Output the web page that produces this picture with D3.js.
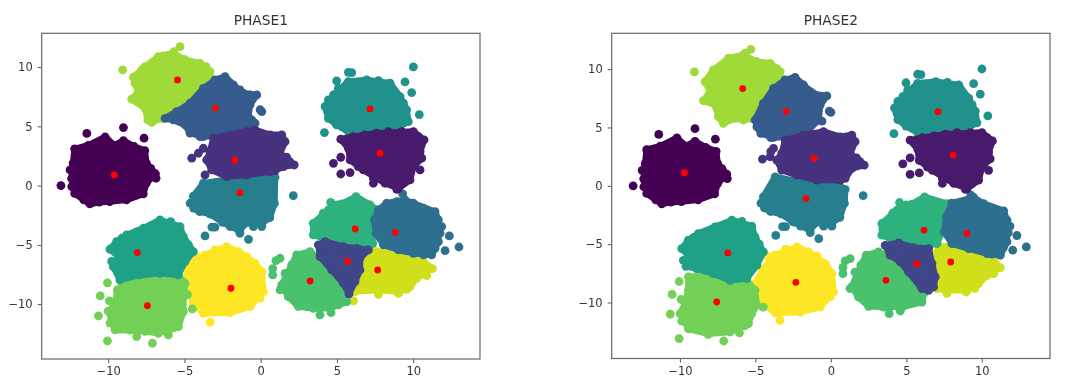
<!DOCTYPE html>
<html>
<head>
<meta charset="utf-8">
<script src="https://cdnjs.cloudflare.com/ajax/libs/d3/7.8.5/d3.min.js"></script>
<style>
  html, body { margin: 0; padding: 0; background: #fff; }
  svg { display: block; filter: blur(0.55px); font-family: "DejaVu Sans", sans-serif; }
</style>
</head>
<body>
<svg id="chart" width="1080" height="392"></svg>
<script>
const xTicks = [-10, -5, 0, 5, 10];
const yTicks = [-10, -5, 0, 5, 10];

// clusters that look the same in both phases
const darkOutline = [[-12.2,3.1],[-11.3,3.4],[-10.2,4.1],[-9.6,3.4],[-9.0,3.8],[-8.3,3.3],[-7.6,2.95],[-7.5,1.9],[-6.9,1.0],[-7.5,0.2],[-7.7,-0.7],[-8.8,-1.2],[-9.9,-1.35],[-10.6,-1.4],[-11.2,-1.55],[-11.6,-1.2],[-12.2,-0.65],[-12.4,0.6],[-12.3,1.9]];
const darkStrays = [[-11.4,4.4],[-9.0,4.9],[-7.65,4.0],[-13.1,0.0]];
const purpleOutline = [[5.25,3.91],[6.08,4.13],[7.6,4.42],[10.01,4.56],[10.71,3.85],[10.45,2.87],[10.56,2.31],[10.01,1.6],[9.79,0.48],[9.03,-0.23],[8.15,0.2],[6.73,1.32],[5.86,2.17],[5.75,3.15]];
const purpleStrays = [[4.77,1.88],[5.25,2.39],[5.25,0.98],[5.86,1.1],[7.39,0.2],[10.45,1.32],[8.92,-0.31]];
const tealOutline = [[4.22,6.67],[4.77,7.65],[5.75,8.78],[6.95,8.92],[8.48,8.64],[9.14,7.51],[9.57,6.39],[9.68,5.4],[8.92,4.84],[7.17,4.7],[5.75,4.56],[4.98,5.12],[4.44,5.68]];
const tealStrays = [[10.01,10.01],[9.46,8.75],[9.9,7.85],[10.4,5.99],[4.18,4.47],[5.75,9.56],[5.97,9.53],[4.98,8.83]];
const bottomTealStrays = [[-3.65,-4.25],[-3.2,-3.5],[-3.0,-3.5],[-0.8,-4.53],[0.07,-3.46],[2.14,-0.84]];
const greenStrays = [[-10.05,-8.2],[-10.52,-9.31],[-9.92,-9.73],[-10.64,-11],[-10.05,-13.1],[-7.1,-13.3],[-8.13,-12.74],[-6.05,-12.6],[-4.48,-10.4]];

// points on the outer rim of each cluster, same label in both phases
const edgePoints = [
  [[-11.63,3.15],[-10.86,3.35],[-7.69,2.45],[-7.21,1.46],[-6.86,0.62],[-12.5,1.32],[-12.39,-0.08]],
  [[6.84,4.28],[8.37,4.56],[9.25,4.56],[10.34,4.13],[9.36,0.2],[7.39,0.62],[6.4,1.6]],
  [[1.0,3.6],[1.7,2.4]],
  [],
  [[-1.36,8.07],[-0.7,7.65],[-0.59,5.54],[-2.01,8.64],[-3.98,4.13]],
  [[8.92,-1.35],[10.67,-1.91],[11.87,-3.46],[11.76,-4.02],[11.43,-5.29],[10.67,-5.85]],
  [[-3.98,-2.05],[-2.0,-3.46],[-1.36,-4.02],[-0.48,-3.46],[-4.63,-1.49]],
  [[6.34,8.64],[7.72,8.86],[5.09,8.21],[4.44,7.23],[9.36,6.95],[9.25,5.54]],
  [[-9.1,-4.44],[-8.1,-3.88],[-7.11,-3.46],[-5.9,-3.04],[-4.74,-5.0],[-9.77,-6.4]],
  [[3.89,-3.18],[5.0,-1.63],[5.86,-1.49],[6.73,-1.49],[4.1,-2.33]],
  [[1.6,-7.4],[3.02,-10.2],[4.1,-10.2],[5.09,-10.07],[1.27,-8.8]],
  [[-9.88,-11.6],[-9.1,-11.76],[-6.27,-12.3],[-5.73,-12]],
  [[-7.8,9.76],[-6.93,10.46],[-6.38,10.94],[-5.07,10.66],[-4.42,10.18],[-3.58,10.04],[-7.91,8.5]],
  [[10.23,-6.41],[8.48,-8.8]],
  [[-4.2,-6],[-3,-5.43],[-0.92,-6],[-0.26,-8.5],[-0.04,-9.5],[-1.35,-10.35],[-2.9,-10.6]]
];

// index in each list = cluster label, 0..14
const phase1Outlines = [
  darkOutline,
  purpleOutline,
  [[-3.32,2.87],[-3.1,4.0],[-2.01,4.28],[-0.92,4.56],[-0.37,4.7],[0.61,4.28],[1.38,4.28],[1.6,3.71],[1.27,2.73],[1.9,2.03],[2.2,1.74],[1.49,1.6],[0.94,1.27],[0.61,1.18],[-0.92,0.9],[-2.23,0.76],[-3.21,1.32],[-3.54,2.17]],
  [[3.78,-5.0],[4.22,-4.73],[5.42,-5.15],[6.3,-5.29],[7.06,-5.43],[6.51,-6.13],[6.51,-7.12],[6.19,-8.1],[5.79,-9.14],[5.42,-8.24],[4.66,-7.12],[3.89,-6.0]],
  [[-6.27,5.68],[-5.51,6.24],[-4.63,6.95],[-3.76,8.21],[-2.99,8.92],[-2.34,9.2],[-1.79,8.5],[-1.14,7.79],[-0.26,7.65],[-0.7,6.81],[-0.81,5.82],[-0.37,5.26],[-0.92,4.84],[-1.57,4.56],[-2.67,4.28],[-3.76,4.13],[-4.63,4.42],[-4.96,5.12],[-5.73,5.54]],
  [[7.72,-2.05],[8.26,-1.49],[9.46,-1.21],[10.01,-1.49],[11.43,-2.2],[11.65,-2.9],[11.65,-4.73],[11.21,-5.85],[10.01,-5.71],[9.03,-5.43],[8.05,-5.0],[7.56,-4.02],[7.45,-2.9]],
  [[-4.42,-0.9],[-3.76,0.2],[-2.23,0.5],[-0.92,0.65],[0.2,0.8],[0.94,0.7],[0.9,-1.5],[0.6,-2.7],[0.05,-3.2],[-0.9,-3.1],[-1.4,-3.8],[-2.5,-3.1],[-3.3,-2.4],[-4.0,-2.2],[-4.4,-1.9]],
  tealOutline,
  [[-9.88,-5.37],[-9.45,-4.73],[-8.79,-4.16],[-7.69,-3.6],[-6.6,-2.9],[-5.29,-3.46],[-5.07,-4.3],[-4.42,-5.57],[-4.96,-6.41],[-5.4,-7.54],[-6.6,-7.4],[-7.92,-7.54],[-9.23,-7.96],[-9.66,-6.84],[-9.33,-5.99]],
  [[3.45,-3.18],[4.44,-2.05],[5.31,-1.55],[6.25,-0.93],[7.17,-1.63],[7.64,-2.05],[7.7,-2.9],[7.39,-3.46],[7.35,-4.87],[6.84,-5.29],[5.86,-5.15],[4.44,-4.58],[3.45,-4.16]],
  [[1.38,-8.38],[2.03,-6.7],[2.36,-5.85],[3.24,-5.57],[3.89,-6.27],[4.77,-7.4],[5.54,-8.8],[5.64,-9.79],[4.55,-10.35],[3.45,-10.35],[2.47,-10.2],[1.81,-9.37]],
  [[-9.4,-8.8],[-8.9,-8.1],[-7.69,-7.74],[-6.38,-7.82],[-5.4,-7.54],[-4.96,-8.24],[-5.07,-9.37],[-5.07,-10.63],[-5.4,-11.9],[-6.71,-12.46],[-7.58,-12.3],[-8.57,-12.2],[-9.55,-12.18],[-9.77,-11.2],[-10,-10.6],[-9.55,-10.07]],
  [[-8.35,9.14],[-7.58,10.04],[-6.71,10.89],[-5.73,11.17],[-4.96,10.6],[-3.98,10.32],[-3.32,9.62],[-3.32,9.06],[-4.31,7.93],[-5.07,6.95],[-5.95,6.24],[-6.49,5.68],[-7.15,5.34],[-7.4,5.54],[-7.58,6.53],[-8.46,7.29],[-8.02,7.93],[-8.24,8.64]],
  [[7.39,-5.43],[8.26,-5.71],[9.35,-6.13],[10.67,-6.41],[11.26,-7.0],[10.23,-7.82],[9.79,-8.52],[9.03,-8.95],[7.72,-8.8],[6.19,-8.94],[6.62,-7.54],[6.73,-6.13]],
  [[-4.74,-6.69],[-3.65,-5.85],[-2.23,-5.15],[-1.46,-5.57],[-0.37,-6.55],[0.07,-7.26],[0.17,-8.95],[-0.7,-10.2],[-2.01,-10.72],[-3.76,-10.77],[-4.42,-9.93],[-4.74,-8.8],[-4.85,-7.82]]
];
const phase1Strays = [
  darkStrays,
  purpleStrays,
  [[-4.52,2.31],[-4.09,2.73],[-3.76,3.15],[-3.65,0.9]],
  [],
  [[0.07,6.24],[-0.04,6.4]],
  [[12.37,-4.25],[12.09,-5.49],[13.0,-5.18],[9.31,-0.7]],
  bottomTealStrays,
  tealStrays,
  [],
  [[4.59,-1.41]],
  [[3.89,-10.91],[4.61,-10.72],[1.27,-6.13],[1.0,-6.33],[0.79,-7.54],[0.79,-7]],
  greenStrays.concat([[-4.8,-9.2]]),
  [[-9.05,9.76],[-5.29,11.73],[-5.68,11.3]],
  [[10.89,-7.6],[7.72,-9.17],[9.03,-9.1],[9.57,-8.75],[6.08,-9.73]],
  [[-3.32,-11.53]]
];
const phase1Centers = [[-9.6,0.9],[7.83,2.73],[-1.7,2.14],[5.7,-6.39],[-2.97,6.53],[8.83,-3.94],[-1.36,-0.6],[7.17,6.47],[-8.09,-5.65],[6.2,-3.66],[3.24,-8.05],[-7.43,-10.13],[-5.46,8.92],[7.67,-7.12],[-1.95,-8.66]];

const phase2Outlines = [
  darkOutline,
  purpleOutline,
  [[-3.25,2.78],[-3.03,3.92],[-1.81,4.35],[-0.49,4.64],[0.62,4.2],[1.39,4.35],[1.61,3.78],[1.28,2.78],[1.94,2.06],[2.21,1.77],[1.39,1.49],[0.95,0.63],[0.62,0.49],[-0.93,0.49],[-2.25,0.92],[-3.25,1.34],[-3.58,2.2]],
  [[3.6,-5.1],[4.49,-4.9],[5.48,-5.3],[6.48,-5.38],[6.7,-6.67],[6.92,-7.81],[6.81,-8.67],[6.48,-8.96],[6.03,-8.81],[5.15,-7.38],[4.6,-6.52],[3.93,-5.95]],
  [[-5.02,5.64],[-4.47,7.07],[-3.8,8.35],[-3.03,9.07],[-2.37,9.3],[-1.81,8.64],[-1.15,7.87],[-0.27,7.7],[-0.71,6.92],[-0.82,5.64],[-1.59,4.64],[-2.7,4.2],[-3.8,4.15],[-4.64,4.49],[-4.9,5.06]],
  [[8.02,-1.48],[9.46,-1.0],[10.12,-1.52],[11.45,-2.15],[11.67,-2.95],[11.67,-4.81],[11.23,-5.95],[10.35,-5.81],[9.13,-5.38],[8.02,-4.95],[7.52,-3.95],[7.65,-2.66]],
  [[-4.47,-0.94],[-3.69,0.77],[-2.03,0.34],[-0.27,0.2],[0.62,-0.09],[0.95,-0.3],[0.9,-1.5],[0.6,-2.7],[0.05,-3.2],[-0.9,-3.1],[-1.4,-3.8],[-2.5,-3.1],[-3.3,-2.4],[-4.0,-2.2],[-4.4,-1.9]],
  tealOutline,
  [[-9.88,-5.38],[-9.44,-4.66],[-8.78,-4.09],[-7.67,-3.52],[-6.56,-2.95],[-5.24,-3.46],[-5.02,-4.38],[-4.47,-5.67],[-4.91,-6.81],[-5.57,-7.95],[-6.68,-8.1],[-7.78,-7.53],[-8.89,-7.1],[-9.6,-6.9],[-9.37,-6.1]],
  [[3.38,-3.23],[4.38,-2.09],[5.37,-1.57],[6.21,-0.95],[7.69,-1.52],[7.91,-2.09],[7.47,-3.66],[7.03,-4.95],[6.48,-5.09],[5.37,-4.81],[4.15,-4.66],[3.38,-4.23]],
  [[1.39,-8.67],[1.99,-6.81],[2.34,-5.95],[3.16,-5.67],[3.93,-6.1],[4.71,-7.1],[5.37,-8.24],[6.15,-9.24],[6.04,-9.96],[4.71,-10.39],[3.49,-10.39],[2.5,-10.33],[1.83,-9.53]],
  [[-9.44,-7.81],[-8.33,-7.67],[-7.78,-7.6],[-6.68,-8.24],[-5.57,-8.1],[-5.02,-8.95],[-4.91,-10.25],[-5.24,-10.96],[-5.46,-11.82],[-6.68,-12.53],[-8.11,-12.68],[-9.44,-12.25],[-9.99,-10.96],[-9.66,-10.1],[-9.44,-8.95]],
  [[-3.36,9.21],[-4.13,7.93],[-4.69,7.07],[-5.24,5.78],[-5.79,5.64],[-6.34,5.78],[-7.12,5.35],[-7.45,5.92],[-7.67,6.92],[-8.44,7.3],[-8.0,8.07],[-8.33,8.93],[-7.78,9.93],[-6.79,10.93],[-5.79,11.22],[-4.91,10.64],[-4.02,10.5],[-3.36,9.79]],
  [[6.81,-5.95],[7.25,-5.24],[8.02,-5.09],[9.24,-5.67],[10.79,-6.38],[11.23,-7.01],[10.35,-7.67],[9.79,-8.38],[9.02,-8.96],[7.69,-8.96],[7.03,-8.81],[7.03,-7.81],[6.81,-6.81]],
  [[-5.02,-8.39],[-4.47,-7.1],[-3.69,-5.95],[-2.25,-5.24],[-1.48,-5.67],[-0.38,-6.67],[0.07,-7.53],[0.18,-9.1],[-0.71,-10.39],[-2.03,-10.82],[-3.69,-10.9],[-4.69,-9.82],[-4.91,-8.96]]
];
const phase2Strays = [
  darkStrays,
  purpleStrays,
  [[-4.53,2.29],[-4.02,2.49],[-3.8,3.2],[-3.98,2.92]],
  [],
  [[0.0,6.3],[-0.1,6.4]],
  [[12.33,-4.26],[12.05,-5.52],[12.95,-5.24],[9.28,-0.8]],
  bottomTealStrays,
  tealStrays,
  [],
  [[4.55,-1.43]],
  [[3.87,-10.96],[4.6,-10.73],[1.28,-6.24],[0.95,-6.44],[0.8,-7.53],[0.8,-7]],
  greenStrays,
  [[-9.04,9.76],[-5.3,11.7],[-5.68,11.36]],
  [[10.79,-7.53],[7.69,-9.24],[8.97,-9.1],[9.53,-8.81]],
  [[-3.36,-11.53]]
];
const phase2Centers = [[-9.7,1.12],[8.11,2.63],[-1.11,2.35],[5.7,-6.67],[-2.96,6.38],[9.02,-4.09],[-1.64,-1.09],[7.1,6.35],[-6.83,-5.75],[6.17,-3.81],[3.65,-8.1],[-7.56,-9.96],[-5.84,8.33],[7.94,-6.53],[-2.32,-8.27]];

const svg = d3.select("#chart");
const color = d3.scaleSequential(d3.interpolateViridis).domain([0, 14]);

function drawPanel(title, box, xDomain, yDomain, outlines, strays, centers) {
  const x = d3.scaleLinear().domain(xDomain).range([box.left, box.right]);
  const y = d3.scaleLinear().domain(yDomain).range([box.bottom, box.top]);
  const g = svg.append("g");
  const line = d3.line().x(d => x(d[0])).y(d => y(d[1])).curve(d3.curveLinearClosed);

  // lowest labels end up on top, like the overlaps in the picture
  d3.range(14, -1, -1).forEach(i => {
    const c = g.append("g").attr("fill", color(i));
    c.append("path")
      .attr("d", line(outlines[i]))
      .attr("stroke", color(i))
      .attr("stroke-width", 6.5)
      .attr("stroke-linejoin", "round");
    c.selectAll("circle")
      .data(outlines[i].concat(edgePoints[i], strays[i]))
      .join("circle")
      .attr("cx", d => x(d[0]))
      .attr("cy", d => y(d[1]))
      .attr("r", 4.4);
  });

  g.append("g")
    .selectAll("circle")
    .data(centers)
    .join("circle")
    .attr("cx", d => x(d[0]))
    .attr("cy", d => y(d[1]))
    .attr("r", 3.4)
    .attr("fill", "#ff0000");

  const xAxis = g.append("g")
    .attr("transform", `translate(0,${box.bottom})`)
    .call(d3.axisBottom(x).tickValues(xTicks).tickSize(4).tickPadding(4));
  const yAxis = g.append("g")
    .attr("transform", `translate(${box.left},0)`)
    .call(d3.axisLeft(y).tickValues(yTicks).tickSize(4).tickPadding(5));
  [xAxis, yAxis].forEach(a => {
    a.select(".domain").remove();
    a.selectAll("line").attr("stroke", "#555");
    a.selectAll("text").attr("fill", "#333").style("font-size", "11.5px").style("font-family", "DejaVu Sans");
  });

  g.append("rect")
    .attr("x", box.left)
    .attr("y", box.top)
    .attr("width", box.right - box.left)
    .attr("height", box.bottom - box.top)
    .attr("fill", "none")
    .attr("stroke", "#666")
    .attr("stroke-width", 1.2);

  g.append("text")
    .attr("x", (box.left + box.right) / 2)
    .attr("y", 25)
    .attr("text-anchor", "middle")
    .attr("fill", "#333")
    .style("font-size", "13.8px")
    .text(title);
}

drawPanel("PHASE1", { left: 41.7, right: 480, top: 33.3, bottom: 359 },
  [-14.36, 14.38], [-14.63, 12.85], phase1Outlines, phase1Strays, phase1Centers);
drawPanel("PHASE2", { left: 611.7, right: 1050, top: 33.3, bottom: 358.5 },
  [-14.52, 14.52], [-14.8, 13.07], phase2Outlines, phase2Strays, phase2Centers);
</script>
</body>
</html>
